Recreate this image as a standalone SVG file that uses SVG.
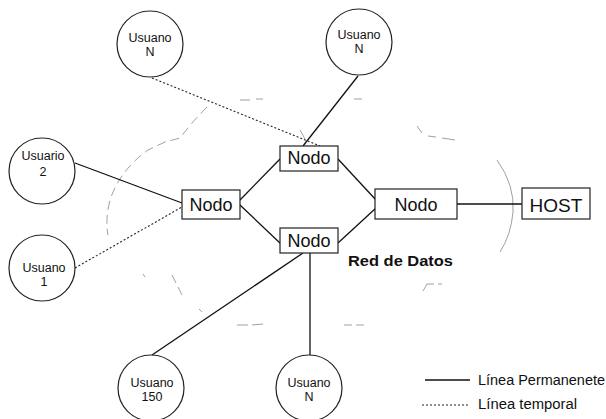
<svg xmlns="http://www.w3.org/2000/svg" width="606" height="419" viewBox="0 0 606 419">
<style>
.bg{fill:#fff}
.user circle{fill:#fff;stroke:#222;stroke-width:1.2}
.user text{font-family:"Liberation Sans",Arial,sans-serif;font-size:12.5px;fill:#111;text-anchor:middle}
.node rect{fill:#fff;stroke:#222;stroke-width:1.2}
.node text{font-family:"Liberation Sans",Arial,sans-serif;font-size:18px;fill:#111;text-anchor:middle}
.solid{stroke:#111;stroke-width:1.3;fill:none}
.dot{stroke:#222;stroke-width:1.1;fill:none;stroke-dasharray:2 2}
.cloud{stroke:#888;stroke-width:0.8;fill:none}
.lbl{font-family:"Liberation Sans",Arial,sans-serif;fill:#111}
</style>
<rect class="bg" x="0" y="0" width="606" height="419"/>
<g id="cloud">
<path class="cloud" stroke-dasharray="9 5" d="M207,107 Q192,122 180,138 L165,142 L148,150 Q120,170 110,200 Q105,220 108,235"/>
<path class="cloud" d="M240,100 L250,100 M256,99 L263,99"/>
<path class="cloud" d="M300,130 L305,139"/>
<path class="cloud" d="M354,99 L362,99"/>
<path class="cloud" d="M417,126 L422,133 M428,136 L436,137 M442,138 L455,140"/>
<path class="cloud" d="M497,160 Q515,185 513,212 Q511,235 500,252"/>
<path class="cloud" d="M423,291 L427,284 L434,284 M438,284 L442,284"/>
<path class="cloud" d="M344,325 L352,325 M356,325 L364,325"/>
<path class="cloud" d="M237,325 L248,325 M252,325 L263,324"/>
<path class="cloud" d="M143,274 L145,277 M172,275 L176,283 M178,287 L182,295 M199,309 L202,312"/>
</g>
<g id="connectors">
<line class="solid" x1="75" y1="163" x2="182" y2="203"/>
<line class="dot" x1="75" y1="268" x2="182" y2="207"/>
<line class="dot" x1="152" y1="78" x2="320" y2="146"/>
<line class="solid" x1="358" y1="76" x2="303" y2="146"/>
<line class="solid" x1="240" y1="200" x2="280" y2="159"/>
<line class="solid" x1="240" y1="205" x2="281" y2="244"/>
<line class="solid" x1="338" y1="159" x2="376" y2="200"/>
<line class="solid" x1="338" y1="243" x2="376" y2="208"/>
<line class="solid" x1="457" y1="204" x2="522" y2="204"/>
<line class="solid" x1="303" y1="253" x2="152" y2="355"/>
<line class="solid" x1="310" y1="253" x2="310" y2="355"/>
</g>
<g id="usuarioN_tl" class="user"><circle cx="150" cy="44" r="33"/><text x="150" y="42">Usuano</text><text x="150" y="56">N</text></g>
<g id="usuarioN_tr" class="user"><circle cx="359" cy="42" r="33"/><text x="359" y="39">Usuano</text><text x="359" y="53">N</text></g>
<g id="usuario2" class="user"><circle cx="42" cy="171" r="33"/><text x="43" y="160">Usuario</text><text x="43" y="176">2</text></g>
<g id="usuario1" class="user"><circle cx="42" cy="268" r="33"/><text x="44" y="272">Usuano</text><text x="44" y="286">1</text></g>
<g id="usuario150" class="user"><circle cx="151" cy="388" r="33"/><text x="152" y="387">Usuano</text><text x="152" y="401">150</text></g>
<g id="usuarioN_b" class="user"><circle cx="309" cy="388" r="33"/><text x="309" y="387">Usuano</text><text x="309" y="401">N</text></g>
<g id="nodo_top" class="node"><rect x="280" y="146" width="58" height="25"/><text x="309" y="164">Nodo</text></g>
<g id="nodo_left" class="node"><rect x="182" y="190" width="58" height="29"/><text x="211" y="211">Nodo</text></g>
<g id="nodo_bottom" class="node"><rect x="280" y="228" width="58" height="25"/><text x="309" y="247">Nodo</text></g>
<g id="nodo_right" class="node"><rect x="375" y="189" width="82" height="30"/><text x="416" y="211">Nodo</text></g>
<g id="host" class="node"><rect x="522" y="188" width="68" height="31"/><text x="556" y="212" style="font-size:19px">HOST</text></g>
<text class="lbl" x="348" y="266" style="font-size:15.5px;font-weight:bold" textLength="105" lengthAdjust="spacingAndGlyphs">Red de Datos</text>
<g id="legend">
<line class="solid" x1="425" y1="380" x2="470" y2="380"/>
<text class="lbl" x="478" y="385" style="font-size:14px" textLength="127" lengthAdjust="spacingAndGlyphs">Línea Permanenete</text>
<line class="dot" x1="422" y1="405" x2="468" y2="405"/>
<text class="lbl" x="478" y="409" style="font-size:14px" textLength="99" lengthAdjust="spacingAndGlyphs">Línea temporal</text>
</g>
</svg>
